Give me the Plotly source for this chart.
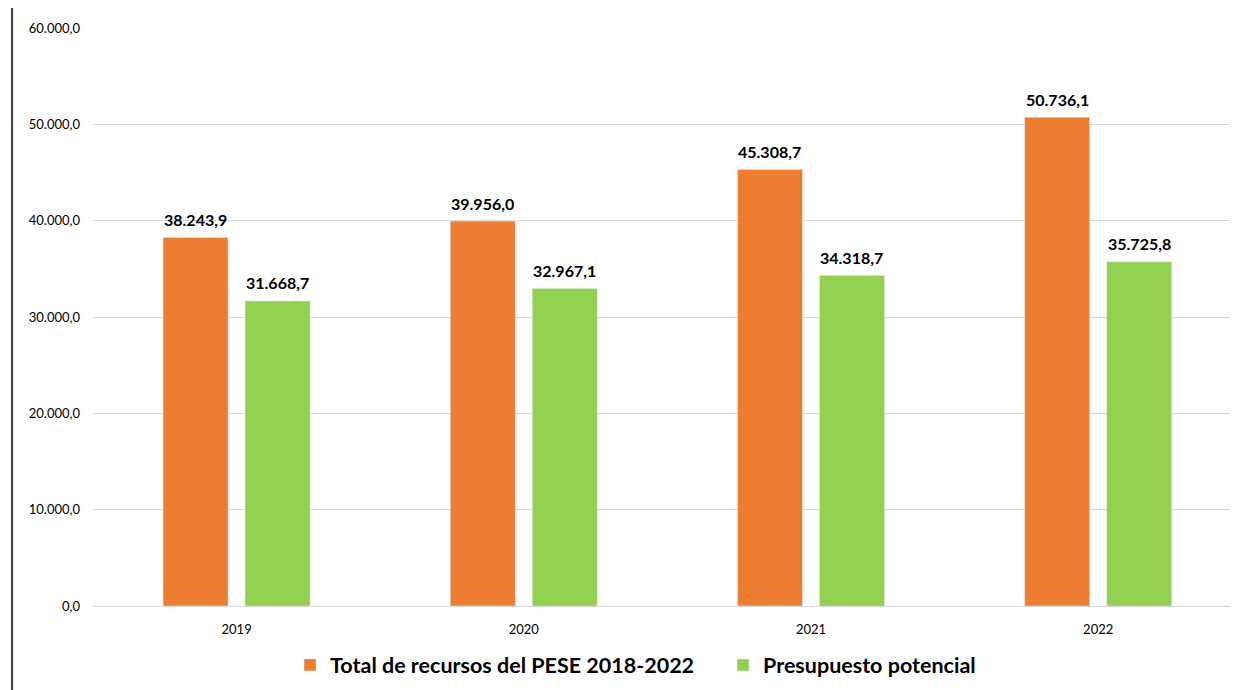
import plotly.graph_objects as go

years = ['2019', '2020', '2021', '2022']
total_pese = [38243.9, 39956.0, 45308.7, 50736.1]
presupuesto = [31668.7, 32967.1, 34318.7, 35725.8]
y_ticks = [0, 10000, 20000, 30000, 40000, 50000, 60000]

FONT = 'Lato, Carlito, sans-serif'
ORANGE = '#ED7D31'
GREEN = '#92D050'


def fmt_es(v):
    # 38243.9 -> '38.243,9'
    return f'{v:,.1f}'.replace(',', ' ').replace('.', ',').replace(' ', '.')


fig = go.Figure()

fig.add_trace(go.Bar(
    x=years, y=total_pese,
    name='Total de recursos del PESE 2018-2022',
    marker_color=ORANGE,
))

fig.add_trace(go.Bar(
    x=years, y=presupuesto,
    name='Presupuesto potencial',
    marker_color=GREEN,
))

# value labels sit a little higher above the bars than plotly's 'outside' text
for series, shift in ((total_pese, -41), (presupuesto, 41)):
    for i, val in enumerate(series):
        fig.add_annotation(
            x=i, y=val, xref='x', yref='y',
            text=fmt_es(val),
            showarrow=False, xshift=shift, yshift=18, yanchor='middle',
            font=dict(family=FONT, size=16, color='#000000', weight='bold'),
        )

# frame edge visible at the left of the picture
fig.add_shape(type='line', xref='paper', yref='paper',
              x0=-0.0712, x1=-0.0712, y0=-0.3, y1=1.2,
              line=dict(color='#404040', width=2))

fig.update_layout(
    width=1248, height=690,
    margin=dict(l=85, r=26, t=20, b=92),
    separators=',.',
    barmode='group',
    bargap=0.429,
    bargroupgap=0.207,
    plot_bgcolor='white',
    paper_bgcolor='white',
    font=dict(family=FONT, color='#000000'),
    xaxis=dict(
        type='category',
        range=[-0.5, 3.459],
        showgrid=False,
        showline=False,
        ticks='',
        tickfont=dict(size=13),
        ticklabelstandoff=14,
    ),
    yaxis=dict(
        range=[0, 60000],
        tickvals=y_ticks,
        tickformat=',.1f',
        showgrid=True,
        gridcolor='#D9D9D9',
        gridwidth=1,
        zeroline=True,
        zerolinecolor='#D9D9D9',
        zerolinewidth=1,
        tickfont=dict(size=13),
        ticklabelstandoff=12,
    ),
    legend=dict(
        orientation='h',
        x=0.1733, xanchor='left',
        y=-0.102, yanchor='middle',
        font=dict(size=21.5, weight='bold'),
        itemwidth=30,
        entrywidth=388,
        traceorder='normal',
    ),
)

fig.write_html('out.html')
